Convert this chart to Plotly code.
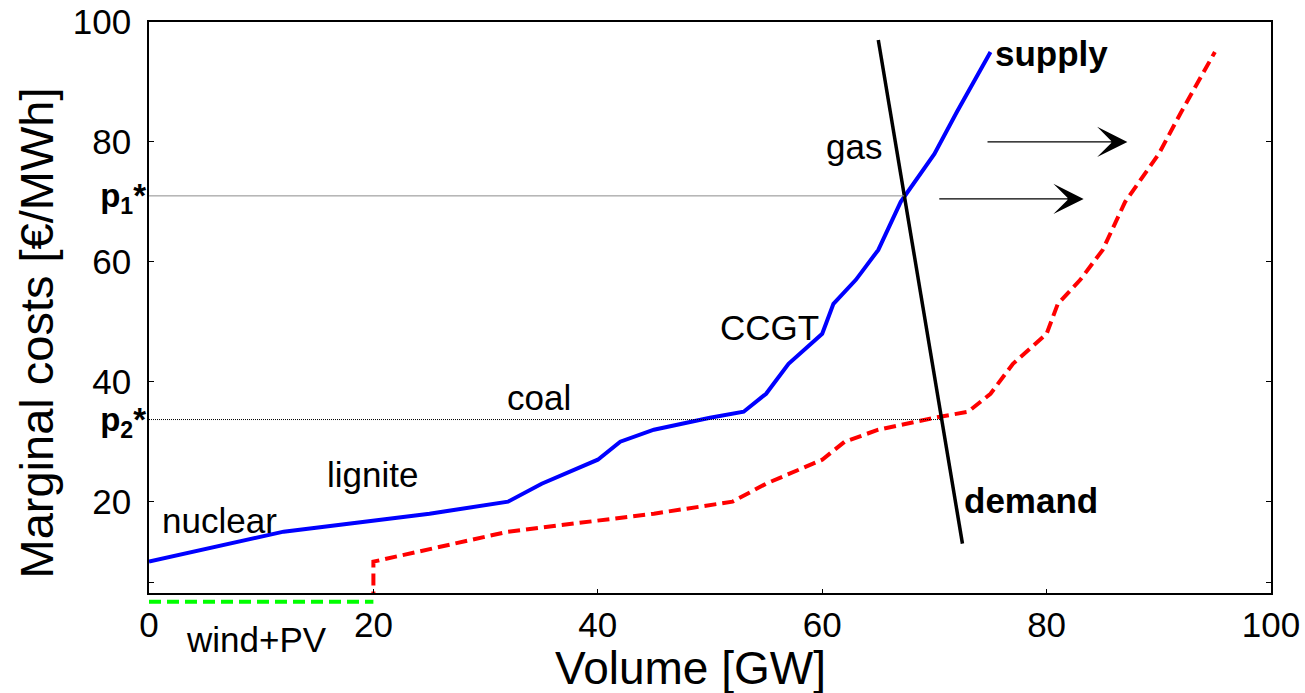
import plotly.graph_objects as go

# ---------------- data ----------------
supply_x = [0, 12, 25, 32, 35, 40, 42, 45, 50, 53, 55, 57, 60, 61, 63, 65, 67, 70, 72, 75]
supply_y = [10, 15, 18, 20, 23, 27, 30, 32, 34, 35, 38, 43, 48, 53, 57, 62, 70, 78, 85, 95]

shifted_x = [20, 20, 32, 45, 52, 55, 60, 62, 65, 70, 73, 75, 77, 80, 81, 83, 85, 87, 90, 92, 95]
shifted_y = [0, 10, 15, 18, 20, 23, 27, 30, 32, 34, 35, 38, 43, 48, 53, 57, 62, 70, 78, 85, 95]

demand_x = [65, 72.5]
demand_y = [97, 13]

wind_x = [0, 20]
wind_y = [0, 0]

p1_price = 71
p1_volume = 67.3
p2_price = 33.7
p2_volume = 70.6

y_tick_vals = [6.5, 20, 40, 60, 80, 100]
y_tick_text = ["", "20", "40", "60", "80", "100"]
x_tick_vals = [0, 20, 40, 60, 80, 100]
x_tick_text = ["0", "20", "40", "60", "80", "100"]
p_tick_text = ["<b>p<sub>1</sub>*</b>", "<b>p<sub>2</sub>*</b>"]

labels = [
    ("nuclear", 6.3, 16.8, False),
    ("lignite", 19.95, 24.6, False),
    ("coal", 34.8, 37.3, False),
    ("CCGT", 55.3, 49.0, False),
    ("gas", 62.8, 79.2, False),
    ("supply", 80.4, 94.7, True),
    ("demand", 78.6, 20.2, True),
]

arrows = [  # (tail x, head x, y)
    (74.6, 87.2, 80.0),
    (70.3, 83.3, 70.5),
]

FONT = "Liberation Sans, Arial, Helvetica, sans-serif"

fig = go.Figure()

fig.add_trace(go.Scatter(x=wind_x, y=wind_y, mode="lines", xaxis="x2", yaxis="y2",
                         line=dict(color="#00FF00", width=4, dash="12px,6px")))
fig.add_trace(go.Scatter(x=[0, p1_volume], y=[p1_price, p1_price], mode="lines", yaxis="y3",
                         line=dict(color="#8c8c8c", width=1)))
fig.add_trace(go.Scatter(x=[0, p2_volume], y=[p2_price, p2_price], mode="lines", yaxis="y3",
                         line=dict(color="black", width=1, dash="1px,1px")))
fig.add_trace(go.Scatter(x=shifted_x, y=shifted_y, mode="lines",
                         line=dict(color="#FF0000", width=4, dash="12px,6px")))
fig.add_trace(go.Scatter(x=supply_x, y=supply_y, mode="lines",
                         line=dict(color="#0000FF", width=4)))
fig.add_trace(go.Scatter(x=demand_x, y=demand_y, mode="lines",
                         line=dict(color="black", width=3.5)))

annotations = []
for text, x, y, bold in labels:
    annotations.append(dict(
        x=x, y=y, xref="x", yref="y", showarrow=False,
        text=f"<b>{text}</b>" if bold else text,
        xanchor="center", yanchor="middle",
        font=dict(family=FONT, size=35, color="black")))

for x0, x1, y in arrows:
    annotations.append(dict(
        x=x1, y=y, ax=x0, ay=y, xref="x", yref="y", axref="x", ayref="y",
        text="", showarrow=True, arrowhead=3, arrowsize=4.2, arrowwidth=1.2,
        arrowcolor="black", standoff=0))

annotations.append(dict(text="wind+PV", x=(256.3 - 149) / 1122, y=(615 - 639) / 593,
                        xref="paper", yref="paper", showarrow=False,
                        xanchor="center", yanchor="middle",
                        font=dict(family=FONT, size=35, color="black")))
annotations.append(dict(text="Volume [GW]", x=(690 - 149) / 1122, y=(615 - 668) / 593,
                        xref="paper", yref="paper", showarrow=False,
                        xanchor="center", yanchor="middle",
                        font=dict(family=FONT, size=46, color="black")))
annotations.append(dict(text="Marginal costs [€/MWh]", x=(36 - 149) / 1122, y=(615 - 333.5) / 593,
                        xref="paper", yref="paper", showarrow=False, textangle=-90,
                        xanchor="center", yanchor="middle",
                        font=dict(family=FONT, size=47, color="black")))

y_main_range = [4.72, 100]

fig.update_layout(
    template="none",
    width=1305, height=693,
    margin=dict(l=149, r=34, t=22, b=78, autoexpand=False),
    paper_bgcolor="white", plot_bgcolor="white",
    showlegend=False,
    font=dict(family=FONT, color="black"),
    annotations=annotations,
    xaxis=dict(domain=[0, 1], range=[0, 100], anchor="y", automargin=False,
               tickvals=x_tick_vals, ticktext=x_tick_text,
               ticks="inside", ticklen=5, tickcolor="black", tickwidth=1,
               showline=True, linecolor="black", linewidth=1.5, mirror=True,
               showgrid=False, zeroline=False,
               tickfont=dict(family=FONT, size=35, color="black")),
    yaxis=dict(domain=[(615 - 593.3) / 593, 1], range=y_main_range, anchor="x", automargin=False,
               tickvals=y_tick_vals, ticktext=y_tick_text,
               ticks="inside", ticklen=5, tickcolor="black", tickwidth=1,
               showline=True, linecolor="black", linewidth=1.5, mirror="ticks",
               showgrid=False, zeroline=False, ticklabelstandoff=9,
               tickfont=dict(family=FONT, size=35, color="black")),
    yaxis3=dict(overlaying="y", anchor="x", side="left", range=y_main_range, automargin=False,
                tickvals=[p1_price, p2_price], ticktext=p_tick_text,
                ticks="", showline=False, showgrid=False, zeroline=False,
                ticklabelstandoff=2,
                tickfont=dict(family=FONT, size=33, color="black")),
    xaxis2=dict(domain=[0, 1], range=[0, 100], anchor="y2", visible=False, automargin=False),
    yaxis2=dict(domain=[0, 0.03], range=[-2.22, 0.75], anchor="x2", visible=False, automargin=False),
)

fig.write_html("out.html",
               config={"displayModeBar": False},
               post_script="document.body.style.margin='0px';document.body.style.overflow='hidden';")
